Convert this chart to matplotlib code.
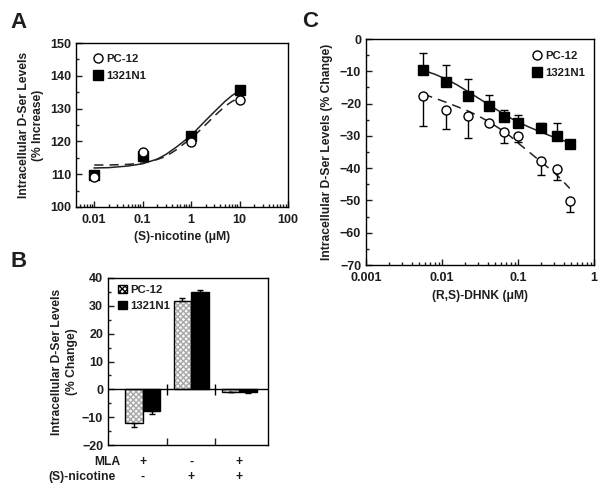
import matplotlib
matplotlib.use('Agg')
import matplotlib.pyplot as plt
from matplotlib.lines import Line2D
from matplotlib.patches import Patch
from matplotlib.ticker import LogLocator, MultipleLocator, NullFormatter
import matplotlib.transforms as mtransforms

# ---- Panel A: (S)-nicotine dose response ----
nic_conc = [0.01, 0.1, 1, 10]
nic_pc12 = [109.2, 116.9, 119.9, 132.5]
nic_1321 = [109.9, 115.6, 121.7, 135.6]
# fitted curves
nic_fit_x = [0.01, 0.02, 0.05, 0.1, 0.2, 0.3, 0.5, 0.7, 1, 1.5, 2, 3, 5, 7, 10]
nic_fit_1321 = [111.9, 112.0, 112.5, 113.2, 114.6, 116.0, 118.3, 120.0, 121.8,
                124.5, 126.4, 129.0, 132.2, 134.0, 135.5]
nic_fit_pc12 = [112.8, 112.8, 113.0, 113.4, 114.5, 115.4, 117.5, 119.2, 120.9,
                123.3, 125.1, 127.7, 130.7, 132.2, 133.3]

# ---- Panel B: MLA / nicotine bars ----
mla_signs = ['+', '-', '+']
nic_signs = ['-', '+', '+']
bar_pc12 = [-12.1, 31.8, -0.9]
bar_pc12_err = [1.6, 0.9, 0.2]
bar_1321 = [-7.9, 35.1, -1.0]
bar_1321_err = [0.8, 0.7, 0.2]

# ---- Panel C: (R,S)-DHNK dose response ----
dhnk_conc = [0.0057, 0.0113, 0.022, 0.041, 0.066, 0.1, 0.2, 0.33, 0.48]
dhnk_pc12 = [-17.8, -22.0, -23.7, -25.9, -28.9, -30.1, -37.7, -40.4, -50.2]
dhnk_pc12_err = [9.0, 6.0, 7.0, 0.6, 3.4, 1.8, 4.4, 3.2, 3.4]
dhnk_1321 = [-9.75, -13.2, -17.8, -20.7, -24.2, -26.1, -27.6, -30.0, -32.5]
dhnk_1321_err = [5.5, 5.3, 5.5, 3.4, 2.2, 2.6, 1.7, 3.9, 0.0]
dhnk_fit_x = [0.0057, 0.008, 0.0113, 0.016, 0.022, 0.03, 0.041, 0.055, 0.066,
              0.08, 0.1, 0.14, 0.2, 0.26, 0.33, 0.4, 0.48]
dhnk_fit_1321 = [-9.7, -10.9, -12.4, -14.3, -16.3, -18.3, -20.3, -22.2, -23.3,
                 -24.5, -25.7, -27.3, -28.8, -29.9, -30.8, -31.5, -32.2]
dhnk_fit_pc12 = [-17.1, -18.3, -19.6, -21.0, -22.3, -23.8, -25.6, -27.5, -28.7,
                 -30.2, -32.2, -35.0, -38.0, -40.2, -42.3, -44.3, -46.3]

TXT = '#1e1e1e'
plt.rcParams['font.family'] = ['Liberation Sans', 'DejaVu Sans']
plt.rcParams['font.weight'] = 'bold'
plt.rcParams['font.size'] = 9
plt.rcParams['text.color'] = TXT
plt.rcParams['axes.labelcolor'] = TXT
plt.rcParams['axes.labelweight'] = 'bold'
plt.rcParams['xtick.color'] = TXT
plt.rcParams['ytick.color'] = TXT
plt.rcParams['axes.linewidth'] = 1.0

fig = plt.figure(figsize=(6.04, 4.91), dpi=100)
W, H = 604, 491
LAB = 8.7
LEG = 8.2


def box(l, t, r, b):
    return [l / W, 1 - b / H, (r - l) / W, (b - t) / H]


def style_ticks(ax):
    ax.tick_params(which='both', direction='in', top=False, right=False,
                   labelsize=9, width=1)
    ax.tick_params(which='major', length=4)
    ax.tick_params(which='minor', length=2)
    ax.tick_params(axis='x', pad=5)


marker_kw = dict(linestyle='none', markersize=6.5)
circle_kw = dict(marker='o', mfc='white', mec='black', mew=1.0, **marker_kw)
square_kw = dict(marker='s', mfc='black', mec='black', **marker_kw)
dash = (0, (6, 4))

# ================= A =================
axA = fig.add_axes(box(76, 43, 288, 207))
axA.plot(nic_fit_x, nic_fit_pc12, color='#222222', lw=1.1, ls=dash)
axA.plot(nic_fit_x, nic_fit_1321, color='#222222', lw=1.1)
axA.plot(nic_conc, nic_pc12, zorder=4, **circle_kw)
axA.plot(nic_conc, nic_1321, zorder=3, **square_kw)
axA.set_xscale('log')
axA.set_xlim(0.0042, 100)
axA.set_ylim(100, 150)
axA.set_xticks([0.01, 0.1, 1, 10, 100])
axA.set_xticklabels(['0.01', '0.1', '1', '10', '100'])
axA.xaxis.set_minor_locator(LogLocator(base=10, subs=range(2, 10)))
axA.xaxis.set_minor_formatter(NullFormatter())
axA.yaxis.set_major_locator(MultipleLocator(10))
axA.yaxis.set_minor_locator(MultipleLocator(5))
style_ticks(axA)
axA.set_xlabel('(S)-nicotine (\u03bcM)', fontsize=LAB, labelpad=4)
axA.set_ylabel('Intracellular D-Ser Levels\n(% Increase)', fontsize=LAB,
               labelpad=4, linespacing=1.3)
axA.legend([Line2D([], [], **circle_kw), Line2D([], [], **square_kw)],
           ['PC-12', '1321N1'], loc='upper left', bbox_to_anchor=(0.06, 0.96),
           frameon=False, handlelength=0.8, handletextpad=0.3,
           labelspacing=0.6, borderaxespad=0, fontsize=LEG)
fig.text(10 / W, 1 - 28 / H, 'A', fontsize=16, fontweight='bold')

# ================= B =================
axB = fig.add_axes(box(108, 278, 268, 445))
grp = [0, 1, 2]
bw = 0.36
x_pc = [g - bw / 2 for g in grp]
x_13 = [g + bw / 2 for g in grp]
axB.bar(x_pc, bar_pc12, width=bw, color='#f7f7f7', edgecolor='#a8a8a8',
        hatch='xxxxxx', linewidth=0, zorder=2)
axB.bar(x_pc, bar_pc12, width=bw, fill=False, edgecolor='black',
        linewidth=1.0, zorder=3)
axB.bar(x_13, bar_1321, width=bw, color='black', edgecolor='black',
        linewidth=1.0, zorder=3)
err_pc = [[e if v < 0 else 0 for v, e in zip(bar_pc12, bar_pc12_err)],
          [e if v > 0 else 0 for v, e in zip(bar_pc12, bar_pc12_err)]]
err_13 = [[e if v < 0 else 0 for v, e in zip(bar_1321, bar_1321_err)],
          [e if v > 0 else 0 for v, e in zip(bar_1321, bar_1321_err)]]
axB.errorbar(x_pc, bar_pc12, yerr=err_pc, fmt='none', ecolor='black',
             elinewidth=1, capsize=2.5, zorder=4)
axB.errorbar(x_13, bar_1321, yerr=err_13, fmt='none', ecolor='black',
             elinewidth=1, capsize=2.5, zorder=4)
axB.axhline(0, color='black', lw=1.0, zorder=5)
axB.vlines([0.5, 1.5], -1.9, 1.9, color='black', lw=1.0, zorder=5)
axB.set_xlim(-0.72, 2.59)
axB.set_ylim(-20, 40)
axB.set_xticks([0.5, 1.5])
axB.set_xticklabels([])
axB.yaxis.set_major_locator(MultipleLocator(10))
axB.yaxis.set_minor_locator(MultipleLocator(5))
style_ticks(axB)
axB.tick_params(axis='x', which='major', length=5)
axB.set_ylabel('Intracellular D-Ser Levels\n(% Change)', fontsize=LAB,
               labelpad=3, linespacing=1.3)
axB.legend([Patch(facecolor='#f7f7f7', edgecolor='black', hatch='xxxxxx'),
            Patch(facecolor='black', edgecolor='black')],
           ['PC-12', '1321N1'], loc='upper left', bbox_to_anchor=(0.035, 0.985),
           frameon=False, handlelength=0.75, handleheight=0.75,
           handletextpad=0.3, labelspacing=0.5, borderaxespad=0, fontsize=LEG)
trB = mtransforms.blended_transform_factory(axB.transData, axB.transAxes)
for g, m, n in zip(grp, mla_signs, nic_signs):
    axB.text(g, -0.10, m, transform=trB, ha='center', va='center', fontsize=LAB)
    axB.text(g, -0.19, n, transform=trB, ha='center', va='center', fontsize=LAB)
axB.text(0.075, -0.10, 'MLA', transform=axB.transAxes, ha='right',
         va='center', fontsize=LAB)
axB.text(0.05, -0.19, '(S)-nicotine', transform=axB.transAxes, ha='right',
         va='center', fontsize=LAB)
fig.text(10 / W, 1 - 267 / H, 'B', fontsize=16, fontweight='bold')

# ================= C =================
axC = fig.add_axes(box(366, 39, 594, 265))
axC.plot(dhnk_fit_x, dhnk_fit_pc12, color='#222222', lw=1.1, ls=dash)
axC.plot(dhnk_fit_x, dhnk_fit_1321, color='#222222', lw=1.1)
axC.errorbar(dhnk_conc, dhnk_1321,
             yerr=[[0] * len(dhnk_1321_err), dhnk_1321_err],
             fmt='none', ecolor='black', elinewidth=1, capsize=2.8, zorder=2)
axC.errorbar(dhnk_conc, dhnk_pc12,
             yerr=[dhnk_pc12_err, [0] * len(dhnk_pc12_err)],
             fmt='none', ecolor='black', elinewidth=1, capsize=2.8, zorder=2)
axC.plot(dhnk_conc, dhnk_pc12, zorder=4, **circle_kw)
axC.plot(dhnk_conc, dhnk_1321, zorder=4, **square_kw)
axC.set_xscale('log')
axC.set_xlim(0.001, 1)
axC.set_ylim(-70, 0)
axC.set_xticks([0.001, 0.01, 0.1, 1])
axC.set_xticklabels(['0.001', '0.01', '0.1', '1'])
axC.xaxis.set_minor_locator(LogLocator(base=10, subs=range(2, 10)))
axC.xaxis.set_minor_formatter(NullFormatter())
axC.yaxis.set_major_locator(MultipleLocator(10))
axC.yaxis.set_minor_locator(MultipleLocator(5))
style_ticks(axC)
axC.set_xlabel('(R,S)-DHNK (\u03bcM)', fontsize=LAB, labelpad=4)
axC.set_ylabel('Intracellular D-Ser Levels (% Change)', fontsize=LAB,
               labelpad=5)
axC.legend([Line2D([], [], **circle_kw), Line2D([], [], **square_kw)],
           ['PC-12', '1321N1'], loc='upper left', bbox_to_anchor=(0.71, 0.965),
           frameon=False, handlelength=0.8, handletextpad=0.3,
           labelspacing=0.6, borderaxespad=0, fontsize=LEG)
fig.text(302 / W, 1 - 27 / H, 'C', fontsize=16, fontweight='bold')

fig.savefig('out.png', dpi=100, facecolor='white')
